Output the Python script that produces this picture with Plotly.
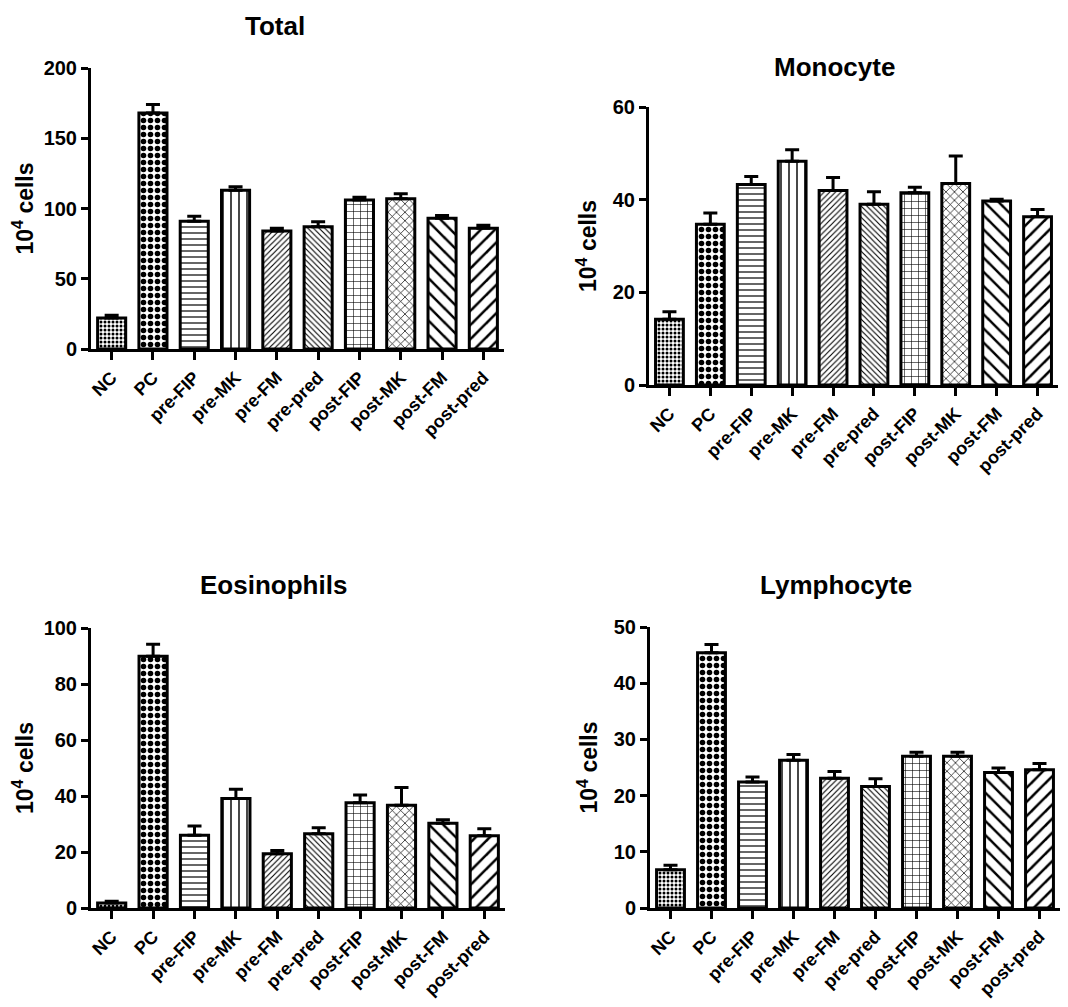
import plotly.graph_objects as go

categories = ["NC", "PC", "pre-FIP", "pre-MK", "pre-FM", "pre-pred",
              "post-FIP", "post-MK", "post-FM", "post-pred"]

total_mean = [22, 168, 91, 113, 84, 87, 106, 107, 93, 86]
total_err = [2, 6, 3.5, 2.5, 2, 3.5, 2, 3.5, 2, 2]

mono_mean = [14.2, 34.7, 43.3, 48.3, 42.0, 39.0, 41.5, 43.5, 39.7, 36.3]
mono_err = [1.6, 2.4, 1.7, 2.5, 2.8, 2.7, 1.2, 5.9, 0.4, 1.6]

eos_mean = [1.8, 89.9, 26.0, 39.1, 19.4, 26.5, 37.6, 36.7, 30.3, 25.8]
eos_err = [0.6, 4.3, 3.3, 3.3, 1.1, 2.2, 2.8, 6.3, 1.2, 2.5]

lym_mean = [6.8, 45.4, 22.4, 26.3, 23.1, 21.6, 27.0, 27.0, 24.1, 24.6]
lym_err = [0.8, 1.5, 0.9, 1.0, 1.2, 1.4, 0.7, 0.7, 0.8, 1.1]

panel_titles = ["Total", "Monocyte", "Eosinophils", "Lymphocyte"]
y_ranges = [[0, 200], [0, 60], [0, 100], [0, 50]]
y_dticks = [50, 20, 20, 10]

pat_shapes = [".", ".", "-", "|", "/", "\\", "+", "x", "\\", "/"]
pat_sizes = [4, 7, 6, 8, 4, 4, 7, 6, 10, 10]
pat_solid = [0.45, 0.5, 0.2, 0.18, 0.28, 0.28, 0.16, 0.22, 0.25, 0.25]

# page is 1068x1007; browser body margin of 8px is compensated
OFF = 8
W, H = 1068 - 2 * OFF, 1007 - 2 * OFF
# pixel boxes in page coords: (x0, x1, ytop, ybottom)
boxes = [(91, 504, 68, 349), (649, 1058, 107, 385),
         (91, 505, 628, 908), (650, 1060, 627, 908)]
title_pos = [(275, 26), (834, 67), (273, 585), (836, 585)]


def fx(px):
    return (px - OFF) / W


def fy(py):
    return 1 - (py - OFF) / H


FONT = "Liberation Sans, Arial, sans-serif"
fig = go.Figure()
data = [(total_mean, total_err), (mono_mean, mono_err),
        (eos_mean, eos_err), (lym_mean, lym_err)]

layout = dict(width=W, height=H,
              margin=dict(l=0, r=0, t=0, b=0, autoexpand=False),
              paper_bgcolor="white", plot_bgcolor="white", showlegend=False,
              bargap=0.32)
annotations = []
for i, ((m, e), (x0, x1, yt, yb)) in enumerate(zip(data, boxes)):
    xa = "x" if i == 0 else f"x{i+1}"
    ya = "y" if i == 0 else f"y{i+1}"
    fig.add_trace(go.Bar(
        x=categories, y=m, xaxis=xa, yaxis=ya,
        marker=dict(color="white", line=dict(color="black", width=3),
                    pattern=dict(shape=pat_shapes, size=pat_sizes,
                                 solidity=pat_solid, fgcolor="black",
                                 bgcolor="white", fillmode="replace")),
        error_y=dict(type="data", symmetric=False, array=e,
                     arrayminus=[0] * len(e), color="black",
                     thickness=3, width=7),
    ))
    xkey = "xaxis" if i == 0 else f"xaxis{i+1}"
    ykey = "yaxis" if i == 0 else f"yaxis{i+1}"
    layout[xkey] = dict(domain=[fx(x0), min(fx(x1), 1)], anchor=ya,
                        automargin=False,
                        showline=True, linecolor="black", linewidth=3,
                        ticks="outside", ticklen=8, tickwidth=3,
                        tickcolor="black", tickangle=-45, showgrid=False,
                        tickfont=dict(family=FONT, size=18, color="black",
                                      weight="bold"),
                        range=[-0.5, 9.5])
    layout[ykey] = dict(domain=[fy(yb), fy(yt)], anchor=xa, automargin=False,
                        range=y_ranges[i], dtick=y_dticks[i],
                        showline=True, linecolor="black", linewidth=3,
                        ticks="outside", ticklen=7, tickwidth=3,
                        tickcolor="black", showgrid=False, zeroline=False,
                        tickfont=dict(family=FONT, size=20, color="black",
                                      weight="bold"),
                        title=dict(text="10<sup>4</sup> cells", standoff=10,
                                   font=dict(family=FONT, size=23,
                                             color="black", weight="bold")))
    tx, ty = title_pos[i]
    annotations.append(dict(text=f"<b>{panel_titles[i]}</b>", x=fx(tx),
                            y=fy(ty), xref="paper", yref="paper",
                            showarrow=False, xanchor="center",
                            yanchor="middle",
                            font=dict(family=FONT, size=26, color="black")))
layout["annotations"] = annotations
fig.update_layout(**layout)
fig.write_html("out.html")
